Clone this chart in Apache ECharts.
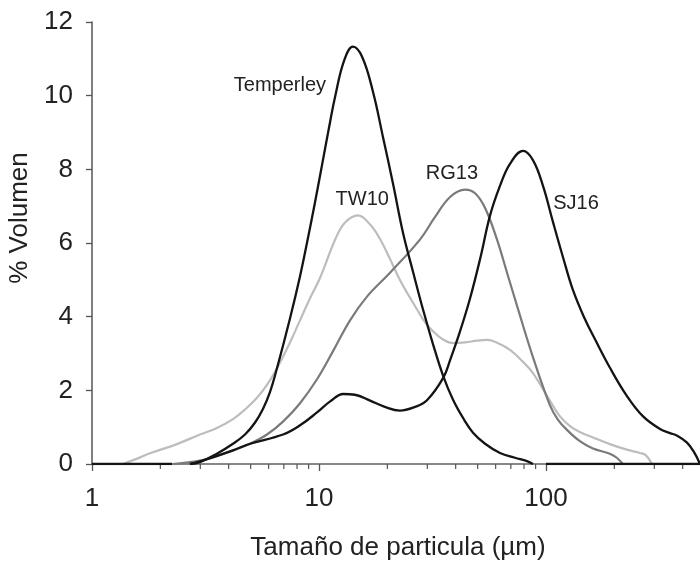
<!DOCTYPE html>
<html>
<head>
<meta charset="utf-8">
<script src="https://cdn.jsdelivr.net/npm/echarts@6/dist/echarts.min.js"></script>
<style>
  html, body { margin: 0; padding: 0; background: #fff; }
  #chart { width: 700px; height: 567px; }
</style>
</head>
<body>
<div id="chart"></div>
<script>
// Particle size distributions: [size (µm), % volume]
const temperley = [[1,0],[2.25,0],[2.45,'-'],[2.7,0],[2.99,0.05],[3.55,0.28],[4.18,0.55],[4.72,0.8],[5.22,1.12],[5.67,1.5],[6.08,1.95],[6.53,2.6],[7.45,3.95],[8.25,5.1],[8.85,6.0],[9.6,7.1],[10.3,8.1],[11.2,9.3],[11.8,10.0],[12.9,10.95],[14.1,11.33],[15.5,11.05],[17.3,10.1],[19.1,8.9],[21.2,7.6],[23.4,6.3],[26,5.2],[28.7,4.2],[31.8,3.25],[35.2,2.4],[38.9,1.75],[43.1,1.25],[47.7,0.85],[53.9,0.55],[62.7,0.3],[73,0.17],[82.5,0.08],[87.6,0],[94,'-'],[100,0],[1000,0]];
const tw10 = [[1.37,0],[1.63,0.18],[1.8,0.29],[2.32,0.52],[2.99,0.8],[3.55,0.98],[4.18,1.22],[4.72,1.48],[5.33,1.8],[5.9,2.15],[6.53,2.6],[7.45,3.3],[8.25,3.9],[9.13,4.5],[10.1,5.05],[11.8,6.1],[13.0,6.55],[14.85,6.75],[16.8,6.5],[18.6,6.1],[20.6,5.55],[22.7,5.0],[24.7,4.6],[27,4.2],[29.3,3.85],[31.8,3.6],[35.2,3.38],[38.9,3.28],[44,3.3],[49.7,3.35],[55,3.37],[61.5,3.28],[69.4,3.1],[78.4,2.8],[87.6,2.47],[104,1.72],[115,1.3],[128,1.02],[141,0.87],[161,0.72],[191,0.54],[227,0.39],[259,0.3],[275,0.24],[293,0]];
const rg13 = [[2.27,0],[2.7,0.05],[3.31,0.15],[4.18,0.37],[4.97,0.55],[5.9,0.8],[6.94,1.15],[8.25,1.65],[9.8,2.3],[11.5,3.05],[13.7,3.9],[16.3,4.55],[20.6,5.2],[27.9,6.1],[32.4,6.7],[37.8,7.25],[44,7.45],[48.7,7.35],[53.9,6.95],[60.8,6.1],[67.3,5.2],[74.5,4.3],[87.6,2.9],[104,1.6],[113,1.2],[124,0.92],[141,0.62],[161,0.42],[191,0.28],[205,0.17],[218,0]];
const sj16 = [[2.7,0],[2.99,0.07],[4.18,0.37],[4.97,0.55],[6.94,0.8],[8.25,1.05],[9.8,1.4],[11.2,1.7],[12.8,1.9],[14.4,1.88],[16.8,1.72],[19.5,1.55],[22.7,1.45],[26.5,1.55],[29.9,1.73],[35.2,2.33],[37.8,2.82],[41.8,3.6],[46.3,4.5],[51.4,5.6],[56.7,6.75],[62.7,7.55],[69.4,8.15],[79.2,8.5],[87.6,8.25],[97,7.55],[107,6.6],[119,5.6],[131,4.75],[148,3.95],[164,3.4],[191,2.62],[227,1.85],[267,1.3],[318,0.95],[352,0.84],[378,0.77],[418,0.58],[449,0.32],[477,0]];

const seriesNames = ['Temperley', 'TW10', 'RG13', 'SJ16'];
// Where each series name is written, in data units [size, % volume]
const nameAnchors = [[6.73, 10.29], [15.5, 7.18], [38.5, 7.89], [135.6, 7.07]];

const yTicks = { min: 0, max: 12, interval: 2 };
const xRange = { min: 1, max: 1000 };
const xMinorTicks = [2,3,4,5,6,7,8,9,20,30,40,50,60,70,80,90,200,300,400,500,600,700,800,900];

const xTitle = 'Tamaño de particula (µm)';
const yTitle = '% Volumen';

const FONT = '"Liberation Sans", Arial, sans-serif';
const colors = ['#141414', '#bdbdbd', '#7a7a7a', '#141414'];
const widths = [2.3, 2.2, 2.2, 2.3];

const chart = echarts.init(document.getElementById('chart'), null, { renderer: 'canvas' });

function curve(i, data) {
  return {
    name: seriesNames[i],
    type: 'line',
    data: data,
    smooth: 0.4,
    showSymbol: false,
    symbol: 'none',
    connectNulls: false,
    z: i === 2 ? 3 : (i === 1 ? 2 : 4),
    lineStyle: { color: colors[i], width: widths[i] },
    markPoint: {
      symbol: 'circle',
      symbolSize: 0,
      silent: true,
      data: [{ coord: nameAnchors[i] }],
      label: {
        show: true,
        position: 'inside',
        formatter: seriesNames[i],
        color: '#222',
        fontFamily: FONT,
        fontSize: 20
      }
    }
  };
}

chart.setOption({
  animation: false,
  backgroundColor: '#fff',
  grid: { left: 92, top: 22, bottom: 103, right: -73, containLabel: false, outerBoundsMode: 'none' },
  xAxis: [{
    type: 'log',
    logBase: 10,
    min: xRange.min,
    max: xRange.max,
    axisLine: { show: true, onZero: false, lineStyle: { color: '#555', width: 1.5 } },
    axisTick: { show: true, inside: false, length: 7, lineStyle: { color: '#555', width: 1.3 } },
    axisLabel: { color: '#222', fontFamily: FONT, fontSize: 26, margin: 22, showMaxLabel: false },
    splitLine: { show: false },
    minorTick: { show: false }
  }, {
    // plain line closing the plot at the top
    type: 'value',
    position: 'top',
    min: 0, max: 1,
    axisLine: { show: true, lineStyle: { color: '#8a8a8a', width: 1.5 } },
    axisTick: { show: false },
    axisLabel: { show: false },
    splitLine: { show: false }
  }],
  yAxis: {
    type: 'value',
    min: yTicks.min,
    max: yTicks.max,
    interval: yTicks.interval,
    axisLine: { show: true, lineStyle: { color: '#555', width: 1.5 } },
    axisTick: { show: true, inside: false, length: 6, lineStyle: { color: '#555', width: 1.3 } },
    axisLabel: { color: '#222', fontFamily: FONT, fontSize: 26, margin: 19 },
    splitLine: { show: false }
  },
  graphic: [
    { type: 'text', x: 398, y: 548, style: { text: xTitle, font: '26px ' + FONT, fill: '#222', textAlign: 'center', textVerticalAlign: 'middle' } },
    { type: 'text', x: 20, y: 218, rotation: Math.PI / 2, style: { text: yTitle, font: '26px ' + FONT, fill: '#222', textAlign: 'center', textVerticalAlign: 'middle' } }
  ],
  series: [
    curve(1, tw10),
    curve(2, rg13),
    curve(0, temperley),
    curve(3, sj16),
    {
      // minor ticks at 2..9 of each decade on the size axis
      type: 'custom',
      silent: true,
      clip: false,
      z: 1,
      data: xMinorTicks.map(v => [v, 0]),
      renderItem: function (params, api) {
        const p = api.coord([api.value(0), api.value(1)]);
        return {
          type: 'line',
          shape: { x1: p[0], y1: p[1], x2: p[0], y2: p[1] + 5 },
          style: { stroke: '#555', lineWidth: 1.2 }
        };
      }
    }
  ]
});
</script>
</body>
</html>
